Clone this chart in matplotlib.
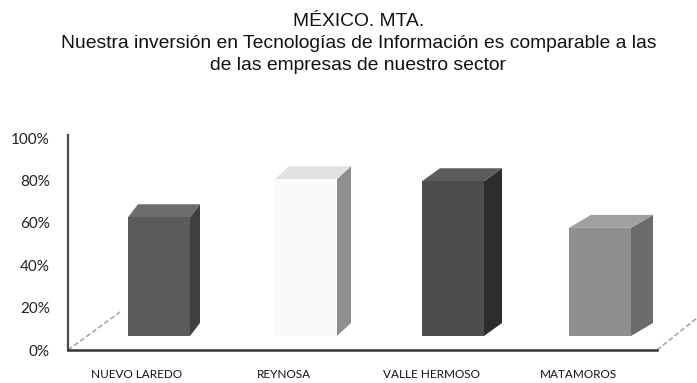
import numpy as np
import matplotlib
matplotlib.use("Agg")
import matplotlib.pyplot as plt
from matplotlib.patches import Polygon

# datos
categories = ["NUEVO LAREDO", "REYNOSA", "VALLE HERMOSO", "MATAMOROS"]
values = [56, 74, 73, 51]
yticks = [0, 20, 40, 60, 80, 100]
ytick_labels = ["0%", "20%", "40%", "60%", "80%", "100%"]
title = ("MÉXICO. MTA.\n"
         "Nuestra inversión en Tecnologías de Información es comparable a las\n"
         "de las empresas de nuestro sector")

front_colors = ["#5b5b5b", "#fafafa", "#4d4d4d", "#8f8f8f"]
side_colors = ["#3f3f3f", "#8e8e8e", "#2d2d2d", "#6b6b6b"]
top_colors = ["#6c6c6c", "#e2e2e2", "#5c5c5c", "#a0a0a0"]

W, H = 697, 383
fig = plt.figure(figsize=(W / 100, H / 100), dpi=100)
fig.patch.set_facecolor("white")

ax = fig.add_axes([68 / W, 33 / H, 629 / W, 212 / H])
ax.set_xlim(-69 / 147, 560 / 147)
ax.set_ylim(0, 100)
for s in ax.spines.values():
    s.set_visible(False)

# pseudo 3D: desplazamiento de profundidad
px_x = 147.0          # pixeles por categoria
px_y = 2.12           # pixeles por punto porcentual
base = 14 / px_y      # las barras se apoyan a media profundidad
shift = 22 / px_x
width = 62 / px_x
dy = 13 / px_y

x = np.arange(len(categories))
xs = x + shift
ax.bar(xs, values, width=width, bottom=base, color=front_colors,
       edgecolor="none", zorder=3)

for i, v in enumerate(values):
    dx = (10 + 4 * i) / px_x
    xl = xs[i] - width / 2
    xr = xs[i] + width / 2
    top = base + v
    side = Polygon([(xr, base), (xr + dx, base + dy), (xr + dx, top + dy), (xr, top)],
                   closed=True, facecolor=side_colors[i], edgecolor="none", zorder=2)
    lid = Polygon([(xl, top), (xl + dx, top + dy), (xr + dx, top + dy), (xr, top)],
                  closed=True, facecolor=top_colors[i], edgecolor="none", zorder=2)
    ax.add_patch(side)
    ax.add_patch(lid)

# ejes y piso
ax.plot([0, 0], [0, 1.015], transform=ax.transAxes, color="#4a4a4a", lw=1.6,
        clip_on=False, zorder=4)
ax.plot([0, 589 / 629], [0, 0], transform=ax.transAxes, color="#333333", lw=1.8,
        clip_on=False, zorder=4)
ax.plot([0, 52 / 629], [0, 38 / 212], transform=ax.transAxes, color="#a8a8a8",
        lw=1.2, ls=(0, (3, 1.5)), clip_on=False, zorder=1)
ax.plot([589 / 629, 1.0], [0, 32 / 212], transform=ax.transAxes, color="#a8a8a8",
        lw=1.2, ls=(0, (3, 1.5)), clip_on=False, zorder=1)

ax.set_yticks(yticks)
ax.set_yticklabels(ytick_labels, fontfamily="Lato", fontsize=11, color="#222222")
ax.set_xticks(x)
ax.set_xticklabels(categories, fontfamily="Lato", fontsize=8.5, color="#111111")
ax.tick_params(axis="y", length=0, pad=13)
ax.tick_params(axis="x", length=0, pad=14)

fig.text(0.514, 0.966, title, ha="center", va="top", fontfamily="Liberation Sans",
         fontsize=13.9, linespacing=1.38, color="#111111")

fig.savefig("out.png", dpi=100, facecolor="white")
